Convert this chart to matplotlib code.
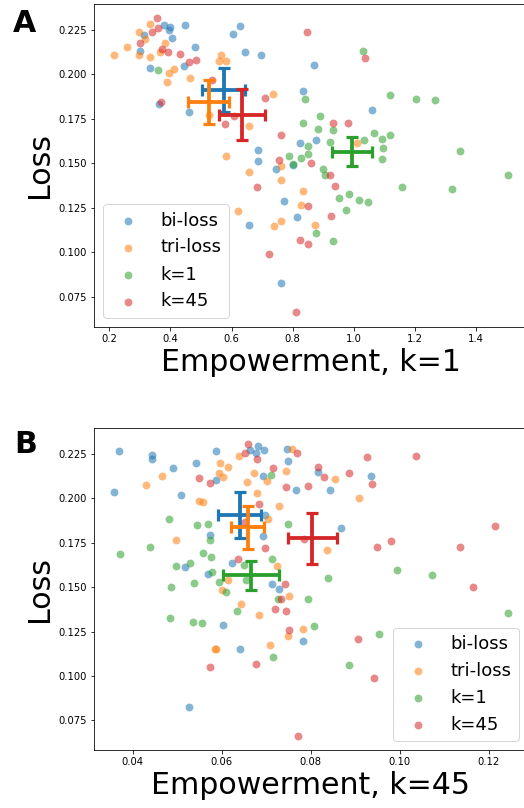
import matplotlib
matplotlib.use("Agg")
import matplotlib.pyplot as plt

# ---------------- Data ----------------
groups = ["bi-loss", "tri-loss", "k=1", "k=45"]
colors = ["tab:blue", "tab:orange", "tab:green", "tab:red"]

# Panel A: Empowerment k=1 (x) vs Loss (y)
a_bi_x = [0.380, 0.400, 0.395, 0.448, 0.627, 0.604, 0.405, 0.312, 0.480, 0.301,
          0.643, 0.696, 0.334, 0.445, 0.363, 0.462, 0.834, 0.823, 0.686, 0.686,
          0.747, 0.801, 0.773, 0.813, 0.658, 0.761, 0.869, 1.062, 0.876]
a_bi_y = [0.2275, 0.2266, 0.2247, 0.2277, 0.2270, 0.2225, 0.2204, 0.2219, 0.2150, 0.2131,
          0.2127, 0.2107, 0.2036, 0.2045, 0.1831, 0.1790, 0.1906, 0.1616, 0.1577, 0.1511,
          0.1470, 0.1489, 0.1287, 0.1197, 0.1154, 0.0826, 0.2049, 0.1798, 0.1633]

a_tri_x = [0.214, 0.256, 0.297, 0.296, 0.332, 0.318, 0.334, 0.367, 0.383, 0.411,
           0.394, 0.387, 0.465, 0.566, 0.558, 0.582, 0.527, 0.656, 0.735, 0.581,
           0.658, 0.762, 0.762, 0.834, 0.827, 0.620, 0.762, 0.740, 1.011, 0.874]
a_tri_y = [0.2105, 0.2154, 0.2107, 0.2238, 0.2279, 0.2195, 0.2094, 0.2125, 0.2176, 0.2032,
           0.2004, 0.1957, 0.1979, 0.2110, 0.2073, 0.2073, 0.1770, 0.1710, 0.1888, 0.1541,
           0.1449, 0.1483, 0.1404, 0.1343, 0.1268, 0.1232, 0.1176, 0.1150, 0.1614, 0.1155]

a_k1_x = [0.359, 0.842, 0.834, 0.790, 0.803, 0.828, 0.852, 1.030, 1.118, 1.203,
          1.266, 0.890, 0.882, 0.934, 1.066, 1.035, 1.093, 1.119, 0.922, 1.095,
          0.850, 1.349, 1.092, 0.899, 0.907, 1.505, 1.158, 1.322, 0.986, 0.951,
          1.017, 1.047, 0.975, 0.876, 0.931]
a_k1_y = [0.2021, 0.1860, 0.1728, 0.1541, 0.1498, 0.1530, 0.1597, 0.2131, 0.1882, 0.1861,
          0.1854, 0.1766, 0.1693, 0.1687, 0.1672, 0.1631, 0.1635, 0.1659, 0.1618, 0.1588,
          0.1552, 0.1567, 0.1524, 0.1470, 0.1436, 0.1436, 0.1369, 0.1356, 0.1328, 0.1303,
          0.1296, 0.1283, 0.1240, 0.1110, 0.1066]

a_k45_x = [0.355, 0.340, 0.359, 0.301, 0.372, 0.391, 0.430, 0.460, 0.485, 0.370,
           0.849, 0.711, 0.536, 0.607, 0.578, 0.763, 0.756, 0.683, 0.852, 0.826,
           0.852, 0.723, 0.810, 1.036, 0.932, 0.983, 0.862, 0.922, 0.940, 0.927]
a_k45_y = [0.2313, 0.2238, 0.2257, 0.2176, 0.2144, 0.2122, 0.2116, 0.2066, 0.2079, 0.1845,
           0.2236, 0.1867, 0.1966, 0.1764, 0.1721, 0.1657, 0.1517, 0.1367, 0.1258, 0.1067,
           0.1049, 0.0993, 0.0665, 0.2090, 0.1727, 0.1728, 0.1502, 0.1433, 0.1375, 0.1206]

# Panel A: group means and error half-widths
a_mean_x = [0.574, 0.525, 0.994, 0.634]
a_mean_y = [0.1910, 0.1843, 0.1566, 0.1773]
a_err_x = [0.070, 0.066, 0.066, 0.076]
a_err_y = [0.0124, 0.0122, 0.0082, 0.0145]

# Panel B: Empowerment k=45 (x) vs Loss (y)
b_bi_x = [0.0369, 0.0443, 0.0443, 0.0491, 0.0357, 0.0509, 0.0542, 0.0587, 0.0664, 0.0681,
          0.0677, 0.0696, 0.0746, 0.0749, 0.0692, 0.0586, 0.0767, 0.0698, 0.0574, 0.0693,
          0.0623, 0.0517, 0.0569, 0.0714, 0.0728, 0.0603, 0.0640, 0.0782, 0.0527, 0.0816,
          0.0844, 0.0935, 0.0868]
b_bi_y = [0.2266, 0.2242, 0.2223, 0.2172, 0.2036, 0.2017, 0.2200, 0.2264, 0.2273, 0.2294,
          0.2257, 0.2273, 0.2275, 0.2212, 0.2125, 0.2105, 0.2045, 0.1904, 0.1796, 0.1788,
          0.1633, 0.1614, 0.1575, 0.1515, 0.1487, 0.1287, 0.1154, 0.1197, 0.0826, 0.2148,
          0.2049, 0.2125, 0.1830]

b_tri_x = [0.0429, 0.0465, 0.0595, 0.0613, 0.0593, 0.0603, 0.0639, 0.0672, 0.0657, 0.0702,
           0.0679, 0.0548, 0.0559, 0.0728, 0.0704, 0.0497, 0.0744, 0.0758, 0.0725, 0.0613,
           0.0601, 0.0752, 0.0644, 0.0684, 0.0782, 0.0749, 0.0708, 0.0584, 0.0586, 0.0855,
           0.0909, 0.0836]
b_tri_y = [0.2073, 0.2125, 0.2199, 0.2176, 0.2142, 0.2120, 0.2236, 0.2142, 0.2092, 0.2096,
           0.2030, 0.1985, 0.1978, 0.1955, 0.1886, 0.1764, 0.2154, 0.2277, 0.1618, 0.1539,
           0.1483, 0.1449, 0.1403, 0.1341, 0.1262, 0.1227, 0.1172, 0.1150, 0.1153, 0.2107,
           0.2000, 0.1708]

b_k1_x = [0.0372, 0.0439, 0.0482, 0.0544, 0.0569, 0.0574, 0.0559, 0.0577, 0.0498, 0.0528,
          0.0579, 0.0537, 0.0485, 0.0593, 0.0610, 0.0634, 0.0649, 0.0654, 0.0714, 0.0711,
          0.0749, 0.0726, 0.0483, 0.0535, 0.0556, 0.0715, 0.0794, 0.0838, 0.0993, 0.1073,
          0.0808, 0.0953, 0.0886, 0.1243]
b_k1_y = [0.1685, 0.1727, 0.1882, 0.1852, 0.1858, 0.1768, 0.1693, 0.1670, 0.1618, 0.1633,
          0.1586, 0.1522, 0.1500, 0.1526, 0.1470, 0.1367, 0.1627, 0.1539, 0.1657, 0.2133,
          0.1858, 0.1433, 0.1328, 0.1303, 0.1296, 0.1109, 0.1433, 0.1552, 0.1594, 0.1566,
          0.1283, 0.1238, 0.1064, 0.1356]

b_k45_x = [0.0660, 0.0653, 0.0679, 0.0716, 0.0550, 0.0574, 0.0745, 0.0770, 0.0793, 0.0684,
           0.0653, 0.0697, 0.0637, 0.0743, 0.0733, 0.0719, 0.0744, 0.0751, 0.0574, 0.0677,
           0.0771, 0.0784, 0.0816, 0.0829, 0.0887, 0.0927, 0.0937, 0.1037, 0.1214, 0.0949,
           0.0980, 0.1136, 0.1165, 0.0907, 0.0943]
b_k45_y = [0.2307, 0.2255, 0.2219, 0.2172, 0.2114, 0.2088, 0.2064, 0.2255, 0.2067, 0.1970,
           0.1867, 0.1721, 0.1659, 0.1517, 0.1431, 0.1375, 0.1367, 0.1258, 0.1051, 0.1066,
           0.0663, 0.1770, 0.2176, 0.2120, 0.2144, 0.2232, 0.2079, 0.2236, 0.1843, 0.1725,
           0.1760, 0.1727, 0.1502, 0.1206, 0.0991]

b_mean_x = [0.0640, 0.0658, 0.0666, 0.0803]
b_mean_y = [0.1905, 0.1837, 0.1566, 0.1775]
b_err_x = [0.00476, 0.00364, 0.00635, 0.0055]
b_err_y = [0.0128, 0.0120, 0.0080, 0.0143]

a_xticks = [0.2, 0.4, 0.6, 0.8, 1.0, 1.2, 1.4]
b_xticks = [0.04, 0.06, 0.08, 0.10, 0.12]
yticks = [0.075, 0.100, 0.125, 0.150, 0.175, 0.200, 0.225]

# ---------------- Figure ----------------
W, H, DPI = 524, 808, 72
fig = plt.figure(figsize=(W / DPI, H / DPI), dpi=DPI)

ax_a = fig.add_axes([94 / W, 1 - 326.7 / H, (527.4 - 94) / W, (326.7 - 4) / H])
ax_b = fig.add_axes([94 / W, 1 - 750 / H, (527.5 - 94) / W, (750 - 428.3) / H])


def draw(ax, xs, ys, mx, my, ex, ey, xlabel, xticks, xlim, legend_loc):
    for x, y, c, g in zip(xs, ys, colors, groups):
        ax.scatter(x, y, s=62, color=c, alpha=0.55, linewidths=0,
                   label=g, zorder=2)
    for i, c in enumerate(colors):
        ax.errorbar(mx[i], my[i], xerr=ex[i], yerr=ey[i], color=c,
                    elinewidth=3.8, capsize=6, capthick=3.2, zorder=3)
    ax.set_xlim(*xlim)
    ax.set_ylim(0.0583, 0.2394)
    ax.set_xticks(xticks)
    ax.set_yticks(yticks)
    ax.tick_params(labelsize=10)
    ax.set_xlabel(xlabel, fontsize=30)
    ax.set_ylabel("Loss", fontsize=30)
    ax.legend(loc=legend_loc, fontsize=18)


draw(ax_a, [a_bi_x, a_tri_x, a_k1_x, a_k45_x], [a_bi_y, a_tri_y, a_k1_y, a_k45_y],
     a_mean_x, a_mean_y, a_err_x, a_err_y, "Empowerment, k=1", a_xticks,
     (0.1494, 1.5696), "lower left")
draw(ax_b, [b_bi_x, b_tri_x, b_k1_x, b_k45_x], [b_bi_y, b_tri_y, b_k1_y, b_k45_y],
     b_mean_x, b_mean_y, b_err_x, b_err_y, "Empowerment, k=45", b_xticks,
     (0.0313, 0.1287), "lower right")

fig.text(13 / W, 1 - 32 / H, "A", fontsize=30, fontweight="bold", va="baseline")
fig.text(14 / W, 1 - 453.3 / H, "B", fontsize=30, fontweight="bold", va="baseline")

fig.savefig("out.png", dpi=DPI)
